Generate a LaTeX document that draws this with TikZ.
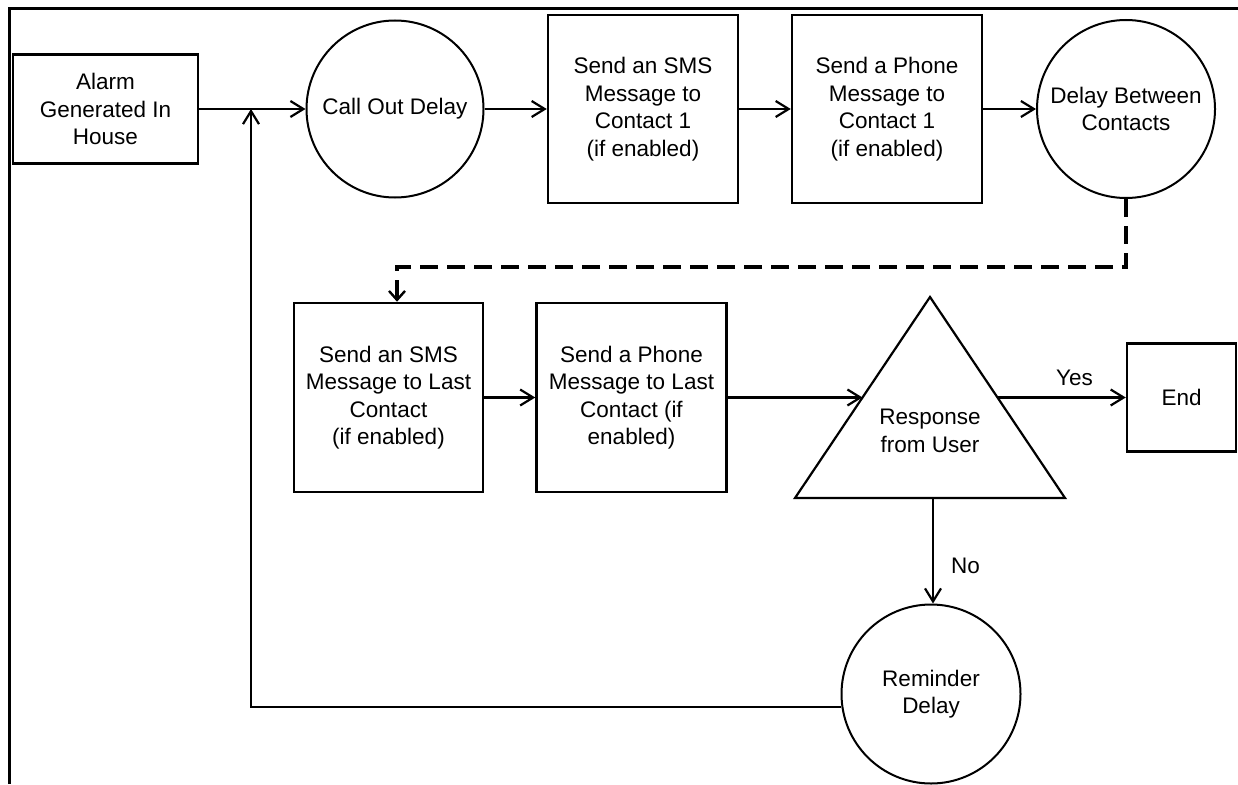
\documentclass[tikz,border=0pt]{standalone}
\usepackage{fontspec}
\setmainfont{Liberation Sans}
\usetikzlibrary{arrows.meta,calc}
\begin{document}
\begin{tikzpicture}[x=1pt,y=-1pt,
  every node/.style={font=\fontsize{22.5}{27.5}\selectfont, align=center, inner sep=0pt},
  box/.style={draw, line width=2.5pt},
  roundel/.style={draw, circle, line width=2pt},
  conn/.style={line width=2.2pt, -{Straight Barb[length=13pt,width=16pt,line width=2.2pt]}},
  dashconn/.style={line width=3.5pt, dash pattern=on 18pt off 9pt,
    -{Straight Barb[length=9pt,width=16pt,line width=2.4pt]}},
  tri/.style={draw, line width=2.2pt, line join=miter}]
\useasboundingbox (0,0) rectangle (1238,784);

% outer frame
\draw[line width=3pt] (9,784) -- (9,9) -- (1238,9);

% first row
\node[box, minimum width=185pt, minimum height=109pt] (alarm) at (105.5,109) {Alarm\\Generated In\\House};
\node[roundel, minimum size=177pt] (callout) at (395,109) {Call Out Delay};
\node[box, minimum width=190pt, minimum height=188pt] (sms1) at (643,109) {Send an SMS\\Message to\\Contact 1\\(if enabled)};
\node[box, minimum width=190pt, minimum height=188pt] (phone1) at (887,109) {Send a Phone\\Message to\\Contact 1\\(if enabled)};
\node[roundel, minimum size=178pt] (between) at (1126,109) {Delay Between\\Contacts};

% second row
\node[box, minimum width=189pt, minimum height=189pt] (sms2) at (388.5,397.5) {Send an SMS\\Message to Last\\Contact\\(if enabled)};
\node[box, minimum width=190pt, minimum height=189pt] (phone2) at (631.5,397.5) {Send a Phone\\Message to Last\\Contact (if\\enabled)};

% decision triangle
\coordinate (apex) at (930,297);
\coordinate (bl) at (795,498);
\coordinate (br) at (1065,498);
\coordinate (tl) at ($(apex)!0.5!(bl)$);
\coordinate (tr) at ($(apex)!0.5!(br)$);
\coordinate (tb) at (933,498);
\draw[tri] (apex) -- (bl) -- (br) -- cycle;
\node (resp) at (930,431) {Response\\from User};

\node[box, minimum width=109pt, minimum height=108pt] (end) at (1181.5,397.5) {End};
\node[roundel, minimum size=179pt] (remind) at (931,694) {Reminder\\Delay};

% connectors
\coordinate (junc) at (251,109);
\coordinate (dl) at (397,267);
\draw[conn] (alarm.east) -- (callout.west);
\draw[conn] (callout.east) -- (sms1.west);
\draw[conn] (sms1.east) -- (phone1.west);
\draw[conn] (phone1.east) -- (between.west);
\draw[dashconn] (between.south) |- (dl) -- (dl |- sms2.north);
\draw[conn] (sms2.east) -- (phone2.west);
\draw[conn] (phone2.east) -- (tl);
\draw[conn] (tr) -- node[above=11pt, pos=0.6] {Yes} (end.west);
\draw[conn] (tb) -- node[right=17pt, pos=0.64] {No} (tb |- remind.north);
\draw[conn] (remind.188.4) -| (junc);
\end{tikzpicture}
\end{document}
